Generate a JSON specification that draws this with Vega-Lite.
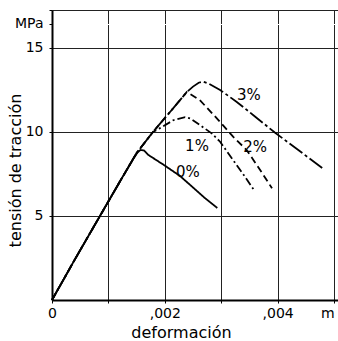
{
  "$schema": "https://vega.github.io/schema/vega-lite/v6.json",
  "width": 286,
  "height": 290,
  "autosize": {"type": "none"},
  "padding": {"left": 52, "top": 10, "right": 0, "bottom": 41},
  "background": "white",
  "config": {"view": {"stroke": null}, "font": "DejaVu Sans"},
  "datasets": {
    "curves": [
      {"serie": "0%", "strain": 0, "stress": 0},
      {"serie": "0%", "strain": 0.00042, "stress": 2.5},
      {"serie": "0%", "strain": 0.00085, "stress": 5.0},
      {"serie": "0%", "strain": 0.00124, "stress": 7.26},
      {"serie": "0%", "strain": 0.00145, "stress": 8.45},
      {"serie": "0%", "strain": 0.00152, "stress": 8.8},
      {"serie": "0%", "strain": 0.00157, "stress": 8.93},
      {"serie": "0%", "strain": 0.00163, "stress": 8.9},
      {"serie": "0%", "strain": 0.00171, "stress": 8.63},
      {"serie": "0%", "strain": 0.002, "stress": 8.0},
      {"serie": "0%", "strain": 0.00227, "stress": 7.38},
      {"serie": "0%", "strain": 0.00271, "stress": 6.07},
      {"serie": "0%", "strain": 0.00293, "stress": 5.48},
      {"serie": "1%", "strain": 0, "stress": 0},
      {"serie": "1%", "strain": 0.00042, "stress": 2.5},
      {"serie": "1%", "strain": 0.00085, "stress": 5.0},
      {"serie": "1%", "strain": 0.00124, "stress": 7.26},
      {"serie": "1%", "strain": 0.0015, "stress": 8.75},
      {"serie": "1%", "strain": 0.00179, "stress": 10.0},
      {"serie": "1%", "strain": 0.0019, "stress": 10.2},
      {"serie": "1%", "strain": 0.00215, "stress": 10.7},
      {"serie": "1%", "strain": 0.00236, "stress": 10.88},
      {"serie": "1%", "strain": 0.00245, "stress": 10.8},
      {"serie": "1%", "strain": 0.00262, "stress": 10.42},
      {"serie": "1%", "strain": 0.00283, "stress": 9.92},
      {"serie": "1%", "strain": 0.00298, "stress": 9.42},
      {"serie": "1%", "strain": 0.00321, "stress": 8.33},
      {"serie": "1%", "strain": 0.00342, "stress": 7.34},
      {"serie": "1%", "strain": 0.00358, "stress": 6.55},
      {"serie": "2%", "strain": 0, "stress": 0},
      {"serie": "2%", "strain": 0.00042, "stress": 2.5},
      {"serie": "2%", "strain": 0.00085, "stress": 5.0},
      {"serie": "2%", "strain": 0.00124, "stress": 7.26},
      {"serie": "2%", "strain": 0.0015, "stress": 8.75},
      {"serie": "2%", "strain": 0.00179, "stress": 10.0},
      {"serie": "2%", "strain": 0.0021, "stress": 11.22},
      {"serie": "2%", "strain": 0.00239, "stress": 12.38},
      {"serie": "2%", "strain": 0.00262, "stress": 11.9},
      {"serie": "2%", "strain": 0.00295, "stress": 10.71},
      {"serie": "2%", "strain": 0.00321, "stress": 9.72},
      {"serie": "2%", "strain": 0.00345, "stress": 8.93},
      {"serie": "2%", "strain": 0.00369, "stress": 7.74},
      {"serie": "2%", "strain": 0.0039, "stress": 6.65},
      {"serie": "3%", "strain": 0, "stress": 0},
      {"serie": "3%", "strain": 0.00042, "stress": 2.5},
      {"serie": "3%", "strain": 0.00085, "stress": 5.0},
      {"serie": "3%", "strain": 0.00124, "stress": 7.26},
      {"serie": "3%", "strain": 0.0015, "stress": 8.75},
      {"serie": "3%", "strain": 0.00179, "stress": 10.0},
      {"serie": "3%", "strain": 0.0021, "stress": 11.22},
      {"serie": "3%", "strain": 0.00239, "stress": 12.38},
      {"serie": "3%", "strain": 0.0025, "stress": 12.7},
      {"serie": "3%", "strain": 0.0026, "stress": 12.93},
      {"serie": "3%", "strain": 0.00268, "stress": 13.0},
      {"serie": "3%", "strain": 0.00278, "stress": 12.88},
      {"serie": "3%", "strain": 0.00298, "stress": 12.5},
      {"serie": "3%", "strain": 0.00327, "stress": 11.8},
      {"serie": "3%", "strain": 0.00357, "stress": 11.0},
      {"serie": "3%", "strain": 0.00395, "stress": 9.97},
      {"serie": "3%", "strain": 0.00479, "stress": 7.86}
    ],
    "labels": [
      {"label": "0%", "strain": 0.00241, "stress": 7.62},
      {"label": "1%", "strain": 0.00257, "stress": 9.18},
      {"label": "2%", "strain": 0.0036, "stress": 9.12},
      {"label": "3%", "strain": 0.00349, "stress": 12.2}
    ]
  },
  "encoding": {
    "x": {
      "field": "strain",
      "type": "quantitative",
      "scale": {"domain": [0, 0.00507], "nice": false, "zero": false},
      "axis": {
        "values": [0, 0.001, 0.002, 0.003, 0.004, 0.005],
        "labelExpr": "datum.value == 0 ? '0' : (abs(datum.value - 0.002) < 1e-7 ? ',002' : (abs(datum.value - 0.004) < 1e-7 ? ',004' : (datum.value > 0.0049 ? 'm' : '')))",
        "labelAlign": {"condition": {"test": "datum.value > 0.0049", "value": "right"}, "value": "center"},
        "labelFlush": false,
        "labelOverlap": false,
        "labelFontSize": 14,
        "labelColor": "black",
        "labelPadding": 3,
        "ticks": true,
        "tickSize": 3,
        "tickColor": "black",
        "domainColor": "black",
        "domainWidth": 2,
        "grid": true,
        "gridColor": "#222",
        "gridWidth": 1,
        "title": "deformación",
        "titleFontSize": 16,
        "titleFontWeight": "normal",
        "titleColor": "black",
        "titleX": 129,
        "titleY": 37,
        "titleAlign": "center",
        "titleBaseline": "alphabetic"
      }
    },
    "y": {
      "field": "stress",
      "type": "quantitative",
      "scale": {"domain": [0, 17.26], "nice": false, "zero": true},
      "axis": {
        "values": [5, 10, 15, 16.43, 17.26],
        "labelExpr": "datum.value == 5 ? '5' : (datum.value == 10 ? '10' : (datum.value == 15 ? '15' : (datum.value < 17 ? 'MPa' : '')))",
        "labelFontSize": 14,
        "labelColor": "black",
        "labelPadding": 6,
        "labelOverlap": false,
        "labelFlush": false,
        "ticks": true,
        "tickSize": 3,
        "tickColor": "black",
        "domainColor": "black",
        "domainWidth": 2,
        "grid": true,
        "gridColor": {"condition": {"test": "datum.value > 16 && datum.value < 17", "value": "white"}, "value": "#222"},
        "gridWidth": 1,
        "title": "tensión de tracción",
        "titleFontSize": 16,
        "titleFontWeight": "normal",
        "titleColor": "black",
        "titleAngle": -90,
        "titleX": -32,
        "titleY": 160,
        "titleAlign": "center",
        "titleBaseline": "alphabetic"
      }
    }
  },
  "layer": [
    {
      "data": {"name": "curves"},
      "mark": {"type": "line", "color": "black", "strokeWidth": 1.8},
      "encoding": {
        "strokeDash": {
          "field": "serie",
          "type": "nominal",
          "scale": {"domain": ["0%", "1%", "2%", "3%"], "range": [[1, 0], [8, 3, 2, 3], [7, 4], [16, 3, 3, 3]]},
          "legend": null
        }
      }
    },
    {
      "data": {"name": "labels"},
      "mark": {"type": "text", "fontSize": 15, "align": "center", "baseline": "middle", "color": "black"},
      "encoding": {
        "text": {"field": "label"}
      }
    }
  ]
}
